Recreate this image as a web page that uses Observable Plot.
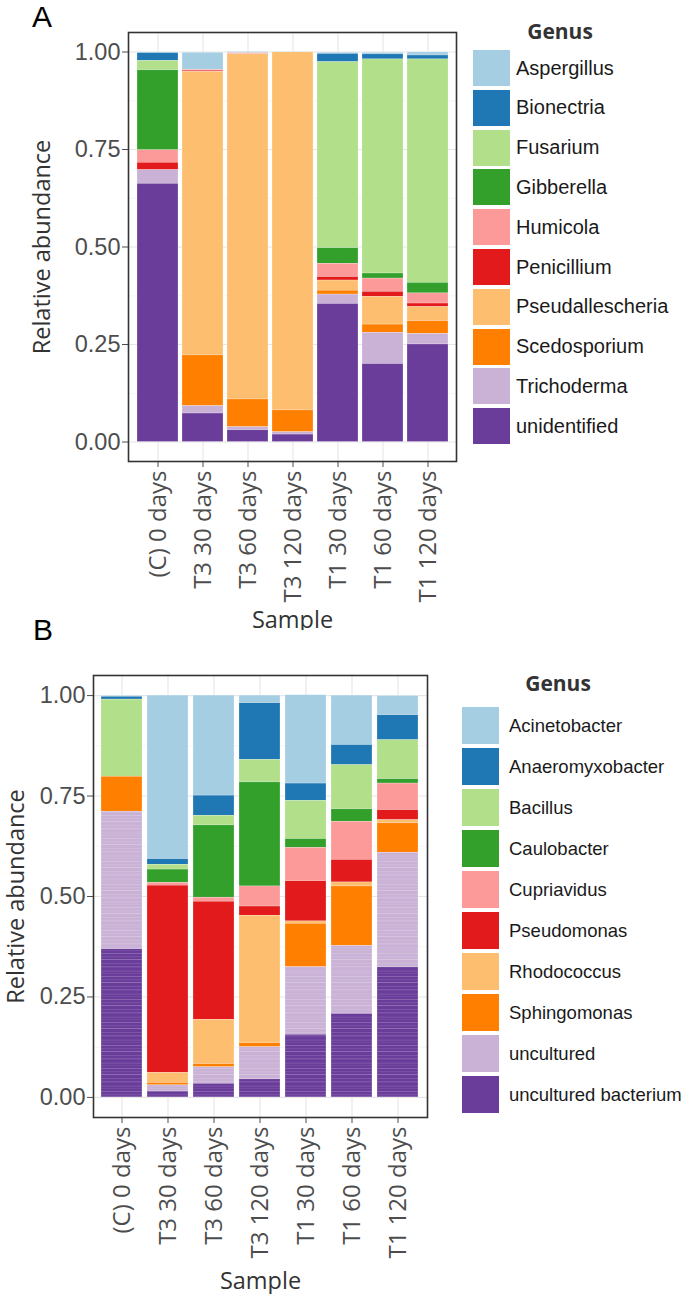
<!DOCTYPE html>
<html><head><meta charset="utf-8">
<script src="https://cdn.jsdelivr.net/npm/d3@7"></script>
<script src="https://cdn.jsdelivr.net/npm/@observablehq/plot@0.6"></script>
<style>
body{margin:0;background:#fff;}
#wrap{position:relative;width:685px;height:1294px;overflow:hidden;font-family:"Liberation Sans",Arial,sans-serif;}
.panel{position:absolute;left:0;}
.letter{position:absolute;font-size:30px;line-height:30px;color:#000;font-family:"Liberation Sans",Arial,sans-serif;}
.leg-title{position:absolute;font-family:"Open Sans",sans-serif;font-weight:700;font-size:21px;line-height:21px;color:#333;text-align:center;width:120px;}
.key{position:absolute;}
.lab{position:absolute;color:#1a1a1a;display:flex;align-items:center;white-space:nowrap;font-family:"Liberation Sans",Arial,sans-serif;}
</style></head>
<body><div id="wrap"></div>
<script>
// ---------- data ----------
const samples = ["(C) 0 days","T3 30 days","T3 60 days","T3 120 days","T1 30 days","T1 60 days","T1 120 days"];
const yTicks = [0, 0.25, 0.5, 0.75, 1];
const paired = ["#A6CEE3","#1F78B4","#B2DF8A","#33A02C","#FB9A99","#E31A1C","#FDBF6F","#FF7F00","#CAB2D6","#6A3D9A"];

// Panel A (fungi)
const fungiGenera = ["Aspergillus","Bionectria","Fusarium","Gibberella","Humicola","Penicillium","Pseudallescheria","Scedosporium","Trichoderma","unidentified"];
const aspergillus      = [0.002, 0.044, 0.003, 0.001, 0.003, 0.004, 0.008];
const bionectria       = [0.020, 0.000, 0.000, 0.000, 0.021, 0.013, 0.010];
const fusarium         = [0.024, 0.000, 0.000, 0.000, 0.477, 0.549, 0.573];
const gibberella       = [0.205, 0.000, 0.000, 0.000, 0.040, 0.013, 0.027];
const humicola         = [0.032, 0.002, 0.003, 0.000, 0.034, 0.034, 0.026];
const penicillium      = [0.019, 0.003, 0.000, 0.000, 0.009, 0.013, 0.009];
const pseudallescheria = [0.000, 0.727, 0.885, 0.918, 0.026, 0.071, 0.036];
const scedosporium     = [0.000, 0.130, 0.071, 0.056, 0.010, 0.021, 0.033];
const trichoderma      = [0.035, 0.019, 0.008, 0.006, 0.024, 0.080, 0.027];
const unidentified     = [0.662, 0.073, 0.030, 0.019, 0.354, 0.200, 0.250];
const fungiValues = [aspergillus, bionectria, fusarium, gibberella, humicola, penicillium, pseudallescheria, scedosporium, trichoderma, unidentified];

// Panel B (bacteria)
const bactGenera = ["Acinetobacter","Anaeromyxobacter","Bacillus","Caulobacter","Cupriavidus","Pseudomonas","Rhodococcus","Sphingomonas","uncultured","uncultured bacterium"];
const acinetobacter       = [0.002, 0.407, 0.249, 0.019, 0.220, 0.123, 0.048];
const anaeromyxobacter    = [0.007, 0.014, 0.050, 0.141, 0.043, 0.050, 0.062];
const bacillus            = [0.192, 0.012, 0.024, 0.056, 0.095, 0.110, 0.097];
const caulobacter         = [0.000, 0.033, 0.180, 0.259, 0.022, 0.031, 0.011];
const cupriavidus         = [0.000, 0.007, 0.010, 0.050, 0.083, 0.095, 0.066];
const pseudomonas         = [0.000, 0.466, 0.294, 0.023, 0.100, 0.056, 0.025];
const rhodococcus         = [0.000, 0.025, 0.110, 0.317, 0.006, 0.010, 0.008];
const sphingomonas        = [0.087, 0.006, 0.008, 0.010, 0.108, 0.148, 0.073];
const uncultured          = [0.342, 0.015, 0.041, 0.080, 0.168, 0.169, 0.285];
const unculturedBacterium = [0.369, 0.015, 0.034, 0.045, 0.156, 0.208, 0.324];
const bactValues = [acinetobacter, anaeromyxobacter, bacillus, caulobacter, cupriavidus, pseudomonas, rhodococcus, sphingomonas, uncultured, unculturedBacterium];
const stripedGenera = ["uncultured", "uncultured bacterium"];

function tidy(genera, values){
  const rows = [];
  genera.forEach((g, gi) => samples.forEach((s, si) => rows.push({sample: s, genus: g, value: values[gi][si]})));
  return rows;
}

const wrap = document.getElementById("wrap");
const NS = "http://www.w3.org/2000/svg";

// decorative stripe pattern (OTU boundary texture)
function stripeDefs(id){
  return () => {
    const g = document.createElementNS(NS, "g");
    const defs = document.createElementNS(NS, "defs");
    const p = document.createElementNS(NS, "pattern");
    p.setAttribute("id", id);
    p.setAttribute("patternUnits", "userSpaceOnUse");
    p.setAttribute("width", 10);
    p.setAttribute("height", 23);
    [[1, .7, .28], [4.5, .6, .18], [7, .8, .3], [11.2, .6, .2], [14.5, .7, .26], [18.8, .6, .2], [21, .5, .15]].forEach(([y, h, o]) => {
      const r = document.createElementNS(NS, "rect");
      r.setAttribute("x", 0); r.setAttribute("y", y);
      r.setAttribute("width", 10); r.setAttribute("height", h);
      r.setAttribute("fill", "#fff"); r.setAttribute("fill-opacity", o);
      p.appendChild(r);
    });
    defs.appendChild(p);
    g.appendChild(defs);
    return g;
  };
}

function panel({genera, values, top, height, mt, mb, ml, mr, yLabelOffset, xLabelOffset, stripes, pid}){
  const data = tidy(genera, values);
  const order = [...genera].reverse();
  const marks = [
    Plot.gridY([0.125, 0.375, 0.625, 0.875], {stroke: "#f0f0f0", strokeOpacity: 1, strokeWidth: 0.7}),
    Plot.gridY(yTicks, {stroke: "#e6e6e6", strokeOpacity: 1, strokeWidth: 1.1}),
    Plot.gridX(samples, {stroke: "#e6e6e6", strokeOpacity: 1, strokeWidth: 1.1}),
    Plot.barY(data, Plot.stackY({order},
      {x: "sample", y: "value", fill: "genus", stroke: "#ffffff", strokeWidth: 0.5, strokeOpacity: 0.45}))
  ];
  if (stripes) {
    marks.unshift(stripeDefs(pid));
    marks.push(Plot.barY(data, Plot.filter(d => stripes.includes(d.genus),
      Plot.stackY({order}, {x: "sample", y: "value", z: "genus", fill: `url(#${pid})`}))));
  }
  marks.push(
    Plot.axisY({ticks: yTicks, tickFormat: d3.format(".2f"), fontSize: 23.5, tickSize: 6, tickPadding: 2,
      color: "#4d4d4d", label: "Relative abundance", labelAnchor: "center", labelOffset: yLabelOffset, labelArrow: "none"}),
    Plot.axisX({tickRotate: -90, fontSize: 24, tickSize: 6, tickPadding: 3, color: "#4d4d4d",
      label: "Sample", labelAnchor: "center", labelOffset: xLabelOffset, labelArrow: "none"}),
    Plot.frame({stroke: "#333", strokeWidth: 1.6})
  );
  const chart = Plot.plot({
    width: 685, height,
    marginTop: mt, marginBottom: mb, marginLeft: ml, marginRight: mr,
    style: {fontFamily: '"Liberation Sans", Arial, sans-serif', background: "#fff", overflow: "visible"},
    x: {domain: samples, paddingInner: 0.1, paddingOuter: 0.15},
    y: {domain: [-0.05, 1.05]},
    color: {domain: genera, range: paired},
    marks
  });
  const svg = d3.select(chart);
  svg.selectAll('g[aria-label="x-axis tick label"]').attr("font-family", '"Open Sans", sans-serif');
  svg.selectAll('g[aria-label="y-axis label"], g[aria-label="x-axis label"]')
     .attr("font-family", '"Open Sans", sans-serif').attr("fill", "#333").attr("font-size", 23.5);
  chart.classList.add("panel");
  chart.style.top = top + "px";
  wrap.appendChild(chart);
}

function legend({genera, left, top, step, size, titleTop, titleCenter, labelLeft, fontSize}){
  const t = document.createElement("div");
  t.className = "leg-title";
  t.textContent = "Genus";
  t.style.left = (titleCenter - 60) + "px";
  t.style.top = titleTop + "px";
  wrap.appendChild(t);
  genera.forEach((g, i) => {
    const k = document.createElement("div");
    k.className = "key";
    k.style.left = left + "px";
    k.style.top = (top + i * step) + "px";
    k.style.width = size[0] + "px";
    k.style.height = size[1] + "px";
    k.style.background = paired[i];
    wrap.appendChild(k);
    const l = document.createElement("div");
    l.className = "lab";
    l.textContent = g;
    l.style.left = labelLeft + "px";
    l.style.top = (top + i * step) + "px";
    l.style.height = size[1] + "px";
    l.style.fontSize = fontSize + "px";
    wrap.appendChild(l);
  });
}

function letter(txt, left, top){
  const d = document.createElement("div");
  d.className = "letter";
  d.textContent = txt;
  d.style.left = left + "px";
  d.style.top = top + "px";
  wrap.appendChild(d);
}

panel({genera: fungiGenera, values: fungiValues, top: 0, height: 630, mt: 32, mb: 169, ml: 128, mr: 229, yLabelOffset: 95, xLabelOffset: 166, pid: "stripesA"});
panel({genera: bactGenera, values: bactValues, top: 630, height: 664, mt: 45, mb: 177, ml: 93, mr: 258, yLabelOffset: 86, xLabelOffset: 171, stripes: stripedGenera, pid: "stripesB"});

legend({genera: fungiGenera, left: 473, top: 50, step: 39.8, size: [37, 36], titleTop: 21, titleCenter: 560, labelLeft: 516, fontSize: 20});
legend({genera: bactGenera, left: 462, top: 707, step: 41, size: [37, 37], titleTop: 673, titleCenter: 558, labelLeft: 509, fontSize: 18.5});

letter("A", 32, 2);
letter("B", 33, 615);
</script>
</body></html>
